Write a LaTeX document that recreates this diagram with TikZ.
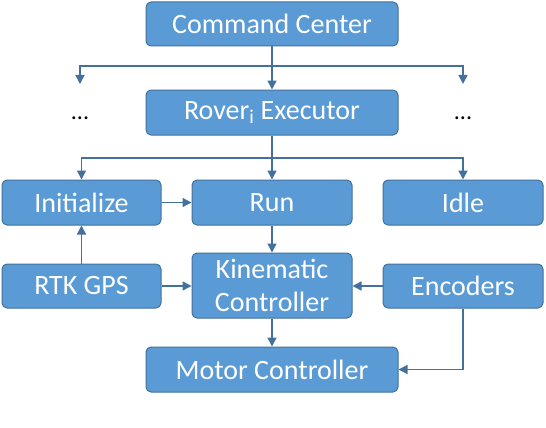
\documentclass[tikz,border=0pt]{standalone}
\usepackage{fontspec}
\setmainfont{Carlito}
\usetikzlibrary{arrows.meta}
\definecolor{boxfill}{HTML}{5B9BD5}
\definecolor{boxline}{HTML}{41719C}
\definecolor{arrowc}{HTML}{41719C}
\begin{document}
\begin{tikzpicture}[x=1pt,y=-1pt,
  blk/.style={draw=boxline, line width=1pt, fill=boxfill, rounded corners=5pt,
    text=white, inner sep=0pt, font=\fontsize{28}{33}\selectfont, align=center},
  conn/.style={draw=arrowc, line width=1.5pt, -{Triangle[length=9pt,width=9pt]}},
  dotsnode/.style={inner sep=0pt, anchor=base, font=\fontsize{24}{28}\selectfont}]
\useasboundingbox (0,0) rectangle (546,428);
\node[blk, minimum width=252pt, minimum height=44pt] (cc) at (272,24) {Command Center};
\node[blk, minimum width=252pt, minimum height=45pt] (rov) at (272,112.5) {Rover\textsubscript{i} Executor};
\node[blk, minimum width=159pt, minimum height=45pt] (init) at (81.5,202.5) {Initialize};
\node[blk, minimum width=160pt, minimum height=45pt] (run) at (272,202.5) {Run};
\node[blk, minimum width=160pt, minimum height=45pt] (idle) at (463,202.5) {Idle};
\node[blk, minimum width=159pt, minimum height=44pt] (rtk) at (81.5,286) {RTK GPS};
\node[blk, minimum width=160pt, minimum height=65pt] (kin) at (272,285.5) {Kinematic\\Controller};
\node[blk, minimum width=160pt, minimum height=44pt] (enc) at (463,286) {Encoders};
\node[blk, minimum width=252pt, minimum height=45pt] (mot) at (272,369.5) {Motor Controller};
\node[dotsnode] (dl) at (80,119) {...};
\node[dotsnode] (dr) at (463,119) {...};
\coordinate (j1) at (272,66);
\coordinate (dlt) at (80,84);
\coordinate (drt) at (463,84);
\coordinate (j2) at (272,158);
\draw[conn] (cc) -- (rov);
\draw[conn] (j1) -| (dlt);
\draw[conn] (j1) -| (drt);
\draw[conn] (rov) -- (run);
\draw[conn] (j2) -| (init.north);
\draw[conn] (j2) -| (idle.north);
\draw[conn] (init) -- (run);
\draw[conn] (rtk) -- (init);
\draw[conn] (rtk.east) -- (rtk.east -| kin.west);
\draw[conn] (enc.west) -- (enc.west -| kin.east);
\draw[conn] (run) -- (kin);
\draw[conn] (kin) -- (mot);
\draw[conn] (enc.south) |- (mot.east);
\end{tikzpicture}
\end{document}
